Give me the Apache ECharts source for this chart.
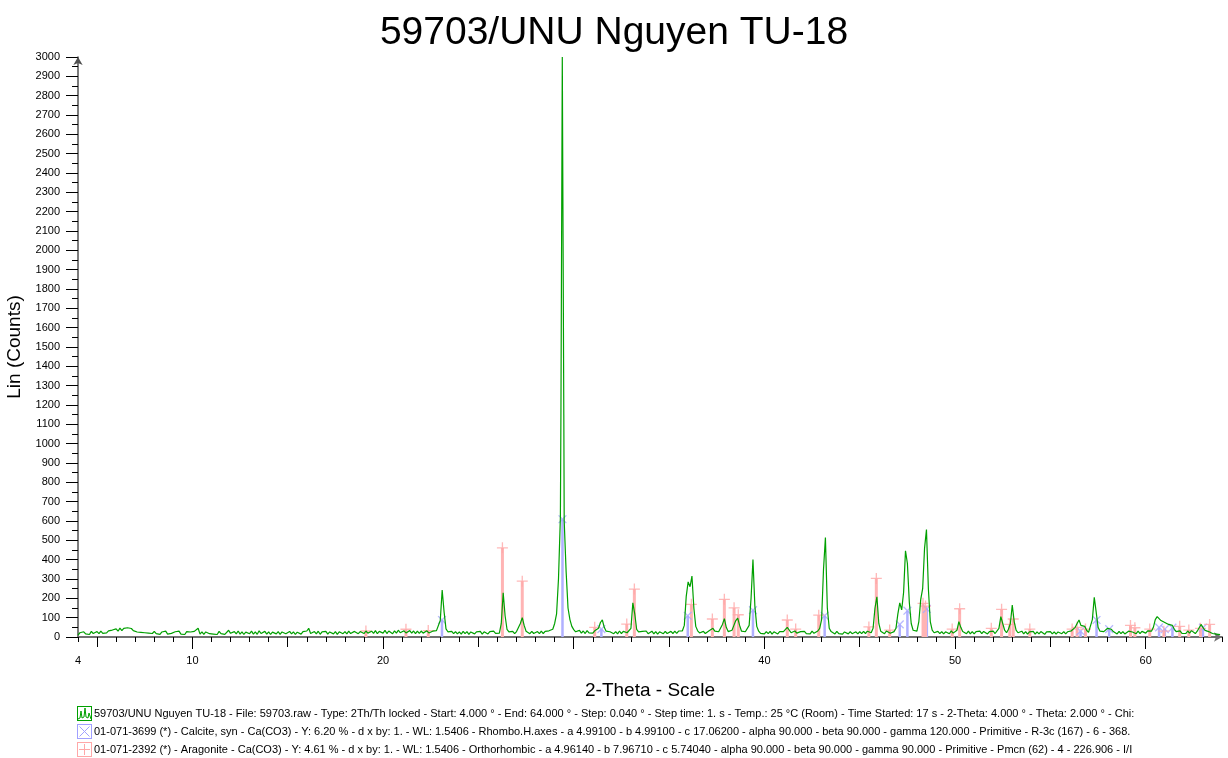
<!DOCTYPE html>
<html><head><meta charset="utf-8">
<script src="https://cdn.jsdelivr.net/npm/echarts@6/dist/echarts.min.js"></script>
<style>html,body{margin:0;padding:0;background:#fff}#c{width:1228px;height:758px}</style>
</head><body><div id="c"></div>
<script>
// ---- data ----
const titleText = '59703/UNU Nguyen TU-18';
const scanStart = 4.0;   // 2-Theta of first value
const scanStep = 0.1;    // 2-Theta step between values
const counts = [
 10,22,14,27,16,24,13,29,18,25, // 4
 28,17,30,19,27,21,32,26,36,28, // 5
 42,30,46,33,45,35,48,38,44,33, // 6
 38,26,36,24,33,22,31,20,30,18, // 7
 29,17,27,14,26,18,30,15,25,19, // 8
 14,27,17,30,15,25,13,28,18,26, // 9
 16,29,20,45,15,27,14,26,31,17, // 10
 27,15,25,13,29,17,26,14,24,35, // 11
 19,14,28,16,31,15,27,13,25,29, // 12
 17,30,15,27,14,32,18,26,29,15, // 13
 27,13,25,30,16,28,14,26,31,17, // 14
 15,29,16,27,13,25,30,15,28,18, // 15
 31,45,18,15,28,16,30,14,27,17, // 16
 29,15,26,31,16,28,14,27,33,17, // 17
 28,16,30,18,15,29,32,17,28,34, // 18
 18,31,20,16,30,19,33,17,29,32, // 19
 20,34,18,31,21,17,32,20,35,22, // 20
 19,32,21,18,33,20,31,17,30,19, // 21
 31,20,18,32,21,17,30,20,33,35, // 22
 85,243,130,42,27,18,29,17,28,16, // 23
 27,15,29,17,28,14,26,30,16,27, // 24
 17,29,15,27,31,16,28,18,30,19, // 25
 28,20,70,229,110,40,27,18,29,17, // 26
 28,35,70,100,60,30,22,17,29,18, // 27
 16,28,17,30,18,29,19,32,30,40, // 28
 70,120,300,620,3000,600,340,150,90,55, // 29
 38,27,22,34,20,31,18,33,21,28, // 30
 20,32,26,45,75,88,50,30,20,27, // 31
 29,17,28,16,31,18,29,33,22,27, // 32
 45,177,120,40,27,18,29,20,31,17, // 33
 18,30,16,28,15,27,31,17,29,18, // 34
 17,29,18,30,19,31,22,32,60,210, // 35
 285,260,315,150,55,32,21,17,29,18, // 36
 27,32,28,45,30,20,27,30,65,95, // 37
 50,28,20,35,60,85,98,60,30,20, // 38
 27,30,60,200,401,160,55,30,19,28, // 39
 16,28,17,29,15,27,30,16,28,18, // 40
 28,35,50,40,22,17,31,20,16,28, // 41
 18,29,17,27,16,30,19,28,31,45, // 42
 90,350,515,150,45,28,19,16,29,17, // 43
 27,15,26,30,16,28,17,14,27,16, // 44
 28,17,29,18,30,32,22,45,150,208, // 45
 70,30,20,17,31,30,19,17,28,45, // 46
 120,177,140,230,446,380,180,70,35,28, // 47
 30,80,195,250,460,556,250,80,35,22, // 48
 18,29,17,28,16,27,30,17,32,20, // 49
 18,35,79,50,28,19,17,30,16,28, // 50
 16,28,18,30,17,29,19,16,28,18, // 51
 30,18,28,45,105,70,35,22,40,70, // 52
 165,80,35,22,17,30,16,28,15,27, // 53
 17,29,15,27,16,28,18,14,27,17, // 54
 28,16,27,15,26,29,17,28,16,27, // 55
 22,32,35,50,70,88,60,50,55,35, // 56
 24,32,90,205,130,50,30,20,28,32, // 57
 45,48,40,28,19,16,29,17,28,16, // 58
 19,30,35,26,20,17,30,17,29,24, // 59
 20,32,24,30,50,90,105,95,85,92, // 60
 75,80,65,72,60,40,28,20,32,19, // 61
 29,18,31,20,33,24,18,30,40,65, // 62
 50,35,40,28,25,18,24,15,19,12, // 63
 12                               // 64
];
// extra readings on the flanks of the main 104 peak
const peakTopTheta = [29.33, 29.48];
const peakTopCounts = [1180, 1150];

// Calcite reference lines (01-071-3699)
const calcitePos = [23.09, 29.41, 31.45, 35.98, 39.40, 43.16, 47.10, 47.50, 48.52, 56.58, 57.42, 58.08, 60.70, 61.00, 61.40, 63.00];
const calciteInt = [88, 609, 41, 110, 139, 110, 65, 136, 145, 30, 88, 41, 50, 41, 48, 48];
// Aragonite reference lines (01-071-2392)
const aragonitePos = [19.10, 21.20, 22.37, 26.26, 27.30, 31.10, 32.78, 33.18, 36.17, 37.27, 37.90, 38.41, 38.63, 41.20, 41.64, 42.85, 45.48, 45.87, 46.57, 48.32, 48.45, 49.85, 50.24, 51.90, 52.44, 52.87, 53.05, 53.92, 56.14, 56.40, 56.84, 59.20, 59.43, 60.21, 60.95, 61.78, 62.26, 62.87, 63.35];
const aragoniteInt = [31, 40, 33, 461, 289, 50, 67, 248, 169, 93, 195, 151, 115, 88, 41, 113, 52, 303, 36, 174, 160, 41, 146, 45, 143, 65, 93, 41, 41, 50, 41, 60, 48, 41, 30, 55, 36, 45, 65];

const xLabelValues = [4, 10, 20, 40, 50, 60];
const xMidTicks = [5, 15, 25, 35, 45, 55];
const xMajorTicks = [10, 20, 30, 40, 50, 60];

const nameScan = '59703/UNU Nguyen TU-18 - File: 59703.raw - Type: 2Th/Th locked - Start: 4.000 ° - End: 64.000 ° - Step: 0.040 ° - Step time: 1. s - Temp.: 25 °C (Room) - Time Started: 17 s - 2-Theta: 4.000 ° - Theta: 2.000 ° - Chi:';
const nameCalcite = '01-071-3699 (*) - Calcite, syn - Ca(CO3) - Y: 6.20 % - d x by: 1. - WL: 1.5406 - Rhombo.H.axes - a 4.99100 - b 4.99100 - c 17.06200 - alpha 90.000 - beta 90.000 - gamma 120.000 - Primitive - R-3c (167) - 6 - 368.';
const nameAragonite = '01-071-2392 (*) - Aragonite - Ca(CO3) - Y: 4.61 % - d x by: 1. - WL: 1.5406 - Orthorhombic - a 4.96140 - b 7.96710 - c 5.74040 - alpha 90.000 - beta 90.000 - gamma 90.000 - Primitive - Pmcn (62) - 4 - 226.906 - I/I';

// ---- build ----
const GREEN = '#00a000', BLUE = '#b0b0ff', PINK = '#ffb4b4';
const FONT = '"Liberation Sans", Arial, sans-serif';
const scanData = counts.map((c, i) => [+(scanStart + i * scanStep).toFixed(2), c]);
peakTopTheta.forEach((t, i) => scanData.push([t, peakTopCounts[i]]));
scanData.sort((a, b) => a[0] - b[0]);
const calciteData = calcitePos.map((p, i) => [p, calciteInt[i]]);
const aragoniteData = aragonitePos.map((p, i) => [p, aragoniteInt[i]]);

function stickRender(w, color) {
  return function (params, api) {
    const x = api.value(0), y = api.value(1);
    const p0 = api.coord([x, 0]), p1 = api.coord([x, y]);
    return { type: 'rect', shape: { x: p0[0] - w / 2, y: p1[1], width: w, height: p0[1] - p1[1] }, style: { fill: color } };
  };
}
const crossPath = 'path://M4.4,0H5.6V4.4H10V5.6H5.6V10H4.4V5.6H0V4.4H4.4Z';
function svgIcon(inner, stroke) {
  const s = "<svg xmlns='http://www.w3.org/2000/svg' width='15' height='15'><rect x='0.5' y='0.5' width='14' height='14' fill='white' stroke='" + stroke + "'/>" + inner + "</svg>";
  return 'image://data:image/svg+xml;charset=utf-8,' + encodeURIComponent(s);
}
const iconScan = svgIcon("<polyline points='1,13 3,12 4,5 5,12 7,11 8,2 9,11 11,12 12,7 14,13' fill='none' stroke='#00a000'/>", '#00a000');
const iconCalcite = svgIcon("<path d='M2.5,2.5L12.5,12.5M12.5,2.5L2.5,12.5' stroke='#a0a0ff'/>", '#a0a0ff');
const iconAragonite = svgIcon("<path d='M7.5,2L7.5,13M2,7.5L13,7.5' stroke='#ffa8a8'/>", '#ffa8a8');

function tickAxis(vals, len) {
  return { type: 'value', min: 4, max: 64, position: 'bottom', gridIndex: 0,
    axisLine: { show: false }, axisLabel: { show: false }, splitLine: { show: false },
    axisTick: { show: true, customValues: vals, length: len, lineStyle: { color: '#000', width: 1 } } };
}

const chart = echarts.init(document.getElementById('c'), null, { renderer: 'canvas' });
chart.setOption({
  animation: false,
  backgroundColor: '#fff',
  title: { text: titleText, left: 'center', top: 9, textStyle: { fontFamily: FONT, fontSize: 39, fontWeight: 'normal', color: '#000' } },
  grid: { left: 78, right: 6, top: 57, bottom: 121, containLabel: false, outerBoundsMode: 'none' },
  legend: {
    orient: 'vertical', left: 77, top: 706, itemGap: 3, itemWidth: 15, itemHeight: 15, padding: 0,
    selectedMode: false,
    textStyle: { fontFamily: FONT, fontSize: 11, color: '#000', padding: [0, 0, 0, -3] },
    data: [{ name: nameScan, icon: iconScan }, { name: nameCalcite, icon: iconCalcite }, { name: nameAragonite, icon: iconAragonite }]
  },
  xAxis: [
    { type: 'value', min: 4, max: 64, interval: 1, position: 'bottom',
      name: '2-Theta - Scale', nameLocation: 'middle', nameGap: 44,
      nameTextStyle: { fontFamily: FONT, fontSize: 19, color: '#000' },
      axisLine: { show: true, onZero: false, symbol: ['none', 'arrow'], symbolSize: [7, 8], lineStyle: { color: '#707070', width: 2 } },
      axisTick: { show: true, length: 5, lineStyle: { color: '#000', width: 1 } },
      axisLabel: { show: true, customValues: xLabelValues, margin: 18, fontFamily: FONT, fontSize: 11, color: '#000' },
      splitLine: { show: false } },
    tickAxis(xMidTicks, 10),
    tickAxis(xMajorTicks, 12)
  ],
  yAxis: {
    type: 'value', min: 0, max: 3000, interval: 100,
    name: 'Lin (Counts)', nameLocation: 'middle', nameGap: 47,
    nameTextStyle: { fontFamily: FONT, fontSize: 19, color: '#000' },
    axisLine: { show: true, onZero: false, symbol: ['none', 'arrow'], symbolSize: [7, 8], lineStyle: { color: '#505050', width: 1.5 } },
    axisTick: { show: true, length: 12, lineStyle: { color: '#000', width: 1 } },
    minorTick: { show: true, splitNumber: 2, length: 6, lineStyle: { color: '#000', width: 1 } },
    axisLabel: { margin: 18, fontFamily: FONT, fontSize: 11, color: '#000', formatter: v => String(v) },
    splitLine: { show: false }
  },
  series: [
    { name: nameCalcite, type: 'custom', xAxisIndex: 0, renderItem: stickRender(2.5, BLUE), encode: { x: 0, y: 1 }, data: calciteData, z: 1, itemStyle: { color: BLUE } },
    { name: nameAragonite, type: 'custom', xAxisIndex: 0, renderItem: stickRender(3, PINK), encode: { x: 0, y: 1 }, data: aragoniteData, z: 1, itemStyle: { color: PINK } },
    { name: 'calciteMarks', type: 'scatter', xAxisIndex: 0, symbol: crossPath, symbolSize: 11, symbolRotate: 45, data: calciteData, itemStyle: { color: '#a8a8ff' }, z: 2 },
    { name: 'aragoniteMarks', type: 'scatter', xAxisIndex: 0, symbol: crossPath, symbolSize: 11, data: aragoniteData, itemStyle: { color: '#ffa8a8' }, z: 2 },
    { name: nameScan, type: 'line', xAxisIndex: 0, data: scanData, showSymbol: false, symbol: 'none', lineStyle: { color: GREEN, width: 1.2 }, itemStyle: { color: GREEN }, z: 3 }
  ]
});
</script>
</body></html>
